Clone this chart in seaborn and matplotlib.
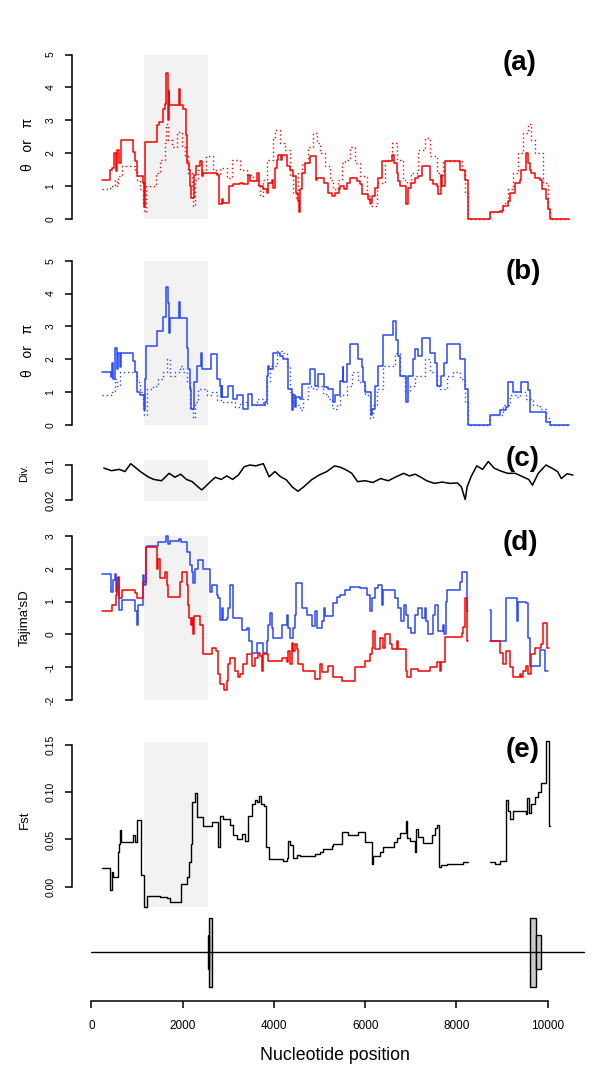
import numpy as np
import pandas as pd
import matplotlib
matplotlib.use("Agg")
import matplotlib.pyplot as plt
import seaborn as sns

sns.set_style("white")
plt.rcParams["font.family"] = ["Liberation Sans", "DejaVu Sans"]
plt.rcParams["axes.unicode_minus"] = False
for key in ["text.color", "axes.labelcolor", "axes.edgecolor", "xtick.color", "ytick.color"]:
    plt.rcParams[key] = "black"

RED = "#ff0000"
BLUE = "#2a48ff"
SHADE = "#f2f2f2"

# highlighted region (nt) and gene model
shade_span = [1150, 2555]
seq_len = 10790
exon_big = [(2570, 2640), (9612, 9755)]
exon_small = [(2545, 2575), (9755, 9857)]
x_ticks = [0, 2000, 4000, 6000, 8000, 10000]

# (a) red, solid and dotted step lines
a_solid_pos = [223, 405, 442, 500, 537, 566, 603, 647, 917, 953, 1000, 1121, 1151, 1172,
               1428, 1487, 1574, 1611, 1640, 1669, 1690, 1710, 1925, 1950, 2013, 2063,
               2100, 2140, 2159, 2180, 2254, 2290, 2378, 2414, 2436, 2743, 2794, 2853,
               2889, 3013, 3108, 3255, 3328, 3437, 3474, 3620, 3678, 3766, 3839, 3876,
               3964, 3985, 4022, 4058, 4080, 4153, 4175, 4277, 4350, 4423, 4474, 4518,
               4555, 4569, 4606, 4679, 4789, 4913, 4935, 5095, 5190, 5264, 5337, 5424,
               5446, 5541, 5592, 5665, 5811, 5884, 5921, 6067, 6103, 6140, 6213, 6286,
               6359, 6578, 6629, 6688, 6724, 6761, 6892, 6943, 7016, 7089, 7163, 7236,
               7419, 7492, 7565, 7601, 7674, 7696, 7747, 8076, 8186, 8259, 8748, 8953,
               9026, 9135, 9172, 9281, 9391, 9428, 9537, 9574, 9610, 9647, 9720, 9829,
               9870, 9975, 10012, 10048, 10472]
a_solid_val = [1.2, 1.5, 1.55, 2.0, 1.45, 2.1, 1.7, 2.4, 2.05, 1.75, 1.3, 1.1, 0.35, 2.35,
               2.85, 2.95, 3.35, 3.5, 4.45, 3.0, 3.9, 3.45, 3.95, 3.45, 3.35, 2.55,
               1.7, 1.5, 1.0, 0.65, 1.35, 1.6, 1.75, 1.3, 1.4, 1.35, 0.45, 0.6,
               0.5, 1.0, 1.05, 1.1, 1.05, 1.35, 1.15, 1.4, 1.0, 0.9, 0.8, 1.1,
               1.2, 0.95, 1.55, 1.8, 1.95, 1.8, 1.95, 1.6, 1.5, 1.3, 0.8, 0.55,
               0.2, 0.9, 1.4, 1.7, 1.9, 1.2, 1.25, 1.1, 0.8, 0.7, 0.8, 0.9,
               1.0, 0.9, 1.1, 1.25, 1.15, 1.05, 0.75, 0.6, 0.5, 0.7, 0.95, 1.25,
               1.75, 1.95, 1.7, 1.4, 1.15, 1.0, 0.45, 0.95, 1.1, 1.25, 1.3, 1.6,
               1.2, 1.05, 1.0, 0.75, 1.35, 1.0, 1.75, 1.5, 1.2, 0.0, 0.2, 0.25,
               0.4, 0.55, 0.8, 1.1, 1.2, 1.5, 2.0, 1.7, 1.5, 1.4, 1.25, 1.2,
               0.9, 0.6, 0.3, 0.0, 0.0]
a_dot_pos = [223, 405, 515, 552, 588, 661, 953, 990, 1063, 1136, 1158, 1187, 1420, 1501,
             1611, 1640, 1684, 1757, 1880, 1976, 2049, 2122, 2195, 2217, 2268, 2341,
             2500, 2670, 2743, 2816, 2962, 3072, 3255, 3401, 3547, 3656, 3693, 3766,
             3839, 3985, 4022, 4131, 4241, 4350, 4423, 4482, 4533, 4606, 4752, 4862,
             4935, 5008, 5117, 5227, 5300, 5410, 5483, 5556, 5665, 5775, 5884, 6030,
             6103, 6250, 6432, 6578, 6688, 6834, 6907, 7016, 7163, 7309, 7419, 7565,
             7638, 7711, 8113, 8186, 8259, 8748, 9026, 9135, 9245, 9354, 9464, 9574,
             9647, 9720, 9902, 10012, 10048, 10472]
a_dot_val = [0.9, 1.0, 1.2, 1.0, 1.3, 1.6, 1.5, 1.2, 0.9, 0.5, 0.2, 1.0, 1.4, 1.8,
             2.3, 2.9, 2.4, 2.2, 2.65, 2.2, 1.9, 1.4, 0.9, 0.4, 1.2, 1.5,
             1.9, 1.5, 1.3, 1.55, 1.25, 1.8, 1.5, 1.35, 1.2, 1.0, 0.7, 1.2,
             1.8, 2.5, 2.7, 2.3, 2.1, 1.3, 0.8, 0.6, 1.4, 1.7, 2.2, 2.6,
             2.3, 2.0, 1.6, 1.2, 0.9, 1.2, 1.7, 1.8, 2.2, 1.7, 1.3, 0.7,
             0.4, 1.1, 1.8, 2.3, 1.8, 1.2, 1.1, 1.4, 2.1, 2.45, 1.9, 1.4,
             1.3, 1.75, 1.5, 0.8, 0.0, 0.2, 0.5, 0.9, 1.4, 2.0, 2.6, 2.9,
             2.4, 2.0, 1.1, 0.3, 0.0, 0.0]

# (b) blue, solid and dotted step lines
b_solid_pos = [223, 427, 457, 478, 515, 552, 588, 625, 647, 917, 953, 990, 1063, 1151,
               1172, 1187, 1428, 1574, 1640, 1669, 1698, 1720, 1925, 1950, 2086, 2122,
               2159, 2180, 2254, 2305, 2400, 2414, 2612, 2760, 2816, 2830, 2853, 2870,
               2999, 3108, 3181, 3328, 3437, 3510, 3803, 3839, 3876, 3898, 3971, 4131,
               4204, 4314, 4387, 4423, 4460, 4482, 4569, 4606, 4789, 4898, 4971, 5095,
               5190, 5300, 5337, 5446, 5505, 5519, 5592, 5665, 5848, 5921, 5957, 5994,
               6118, 6140, 6213, 6286, 6396, 6615, 6666, 6724, 6761, 6892, 6943, 7053,
               7089, 7163, 7236, 7419, 7528, 7565, 7674, 7726, 7784, 8076, 8186, 8259,
               8748, 8953, 9099, 9135, 9245, 9428, 9574, 9610, 9975, 10048, 10472]
b_solid_val = [1.6, 1.45, 1.9, 1.4, 2.35, 1.7, 2.2, 1.75, 2.2, 1.95, 1.6, 1.0, 0.9, 0.45,
               1.4, 2.4, 2.85, 3.3, 4.2, 3.7, 2.8, 3.25, 3.75, 3.25, 2.35, 1.7,
               1.1, 0.5, 1.3, 1.8, 2.2, 1.7, 2.15, 1.4, 1.2, 0.85, 1.2, 0.85,
               1.2, 0.8, 0.9, 0.5, 0.95, 0.6, 0.7, 1.5, 1.8, 1.7, 2.2, 2.1,
               2.0, 1.1, 0.45, 0.9, 0.55, 0.85, 0.8, 1.25, 1.7, 1.2, 1.55, 1.15,
               1.1, 0.7, 0.9, 1.35, 1.75, 1.3, 1.85, 2.45, 2.0, 1.75, 1.3, 1.0,
               0.3, 0.5, 1.2, 1.8, 2.75, 3.15, 2.6, 2.1, 1.5, 0.7, 1.5, 2.0,
               2.3, 2.1, 2.65, 2.2, 1.9, 1.2, 1.5, 1.9, 2.45, 2.0, 1.1, 0.0,
               0.3, 0.45, 0.55, 1.3, 1.0, 1.3, 1.05, 0.4, 0.1, 0.0, 0.0]
b_dot_pos = [223, 442, 515, 552, 625, 990, 1063, 1136, 1158, 1209, 1355, 1465, 1574, 1647,
             1720, 1830, 1940, 2013, 2086, 2159, 2217, 2268, 2341, 2524, 2634, 2743,
             2889, 3145, 3255, 3401, 3620, 3766, 3839, 3912, 4058, 4168, 4277, 4350,
             4423, 4569, 4642, 4752, 4862, 4971, 5081, 5190, 5264, 5300, 5373, 5446,
             5592, 5702, 5848, 5994, 6103, 6176, 6250, 6396, 6651, 6761, 6870, 6980,
             7089, 7309, 7419, 7565, 7638, 7784, 7930, 8076, 8186, 8259, 8748, 9026,
             9172, 9318, 9391, 9537, 9683, 9829, 9975, 10048, 10472]
b_dot_val = [0.9, 1.0, 1.4, 1.2, 1.6, 1.3, 1.0, 0.6, 0.3, 1.1, 1.2, 1.4, 1.6, 2.0,
             1.5, 1.6, 1.8, 1.6, 1.3, 0.5, 0.2, 0.7, 1.1, 0.9, 1.0, 0.75,
             0.7, 0.55, 0.7, 0.6, 0.8, 0.6, 1.3, 1.8, 2.25, 2.2, 1.8, 1.0,
             0.6, 0.45, 0.8, 1.2, 1.1, 1.2, 0.95, 0.8, 0.6, 0.5, 0.6, 0.9,
             1.2, 1.6, 1.3, 0.9, 0.2, 0.6, 1.1, 1.8, 2.2, 1.5, 1.0, 1.2,
             1.5, 2.0, 1.6, 1.2, 1.1, 1.5, 1.6, 1.4, 0.7, 0.0, 0.3, 0.6,
             0.9, 0.85, 1.0, 0.8, 0.6, 0.5, 0.2, 0.0, 0.0]

# (c) divergence
c_pos = [271, 439, 608, 734, 860, 944, 1071, 1240, 1366, 1535, 1703, 1830, 1956, 2082,
         2209, 2335, 2420, 2589, 2715, 2842, 2968, 3094, 3221, 3347, 3473, 3600, 3768,
         3895, 4021, 4148, 4274, 4400, 4527, 4653, 4822, 4991, 5159, 5328, 5454, 5581,
         5707, 5834, 6002, 6171, 6339, 6508, 6677, 6845, 6971, 7098, 7224, 7350, 7519,
         7688, 7856, 8025, 8110, 8194, 8236, 8321, 8447, 8574, 8700, 8827, 8953, 9121,
         9290, 9459, 9585, 9669, 9796, 9965, 10091, 10218, 10302, 10428, 10555]
c_val = [0.093, 0.087, 0.090, 0.085, 0.103, 0.096, 0.085, 0.073, 0.067, 0.064, 0.081,
         0.072, 0.079, 0.067, 0.062, 0.050, 0.043, 0.060, 0.072, 0.067, 0.075, 0.067,
         0.077, 0.096, 0.100, 0.098, 0.103, 0.073, 0.085, 0.073, 0.066, 0.050, 0.040,
         0.050, 0.066, 0.077, 0.085, 0.098, 0.095, 0.089, 0.081, 0.062, 0.064, 0.060,
         0.069, 0.064, 0.073, 0.081, 0.075, 0.079, 0.072, 0.064, 0.058, 0.061, 0.058,
         0.059, 0.050, 0.021, 0.050, 0.073, 0.098, 0.090, 0.108, 0.093, 0.087, 0.081,
         0.081, 0.073, 0.067, 0.054, 0.081, 0.100, 0.093, 0.085, 0.069, 0.080, 0.077]

# (d) Tajima's D, blue and red (None = no data)
d_blue_pos = [223, 427, 478, 515, 537, 566, 610, 661, 953, 990, 1026, 1121, 1151, 1187,
              1209, 1465, 1640, 1684, 1720, 1925, 1960, 2100, 2159, 2195, 2217, 2268,
              2341, 2451, 2597, 2634, 2743, 2780, 2816, 2853, 2880, 2962, 2999, 3035,
              3108, 3291, 3401, 3459, 3510, 3620, 3766, 3839, 3876, 3912, 3949, 3985,
              4168, 4277, 4314, 4350, 4423, 4460, 4482, 4606, 4716, 4825, 4898, 4935,
              5044, 5095, 5117, 5300, 5373, 5446, 5556, 5665, 5884, 6030, 6103, 6140,
              6213, 6286, 6359, 6396, 6651, 6724, 6797, 6856, 6892, 6943, 7016, 7089,
              7163, 7236, 7309, 7345, 7382, 7492, 7528, 7601, 7711, 7733, 7762, 7784,
              8076, 8113, 8244, 8259, 8500, 8748, 8770, 9084, 9330, 9345, 9537, 9574,
              9610, 9829, 9939, 10012]
d_blue_val = [1.85, 1.3, 1.65, 1.85, 1.3, 1.7, 0.75, 1.05, 0.7, 0.3, 0.9, 1.8, 1.5, 2.65,
              2.7, 2.8, 3.0, 2.75, 2.85, 2.9, 2.8, 2.5, 2.1, 1.9, 1.55, 2.0,
              2.25, 2.0, 1.3, 1.5, 1.2, 1.1, 0.45, 0.8, 0.45, 0.5, 0.8, 1.5,
              0.5, 0.15, 0.2, -0.2, -0.55, -0.25, -0.55, -0.2, 0.3, 0.65, 0.2, -0.1,
              0.3, 0.6, 0.2, -0.1, 0.2, 0.6, 1.55, 0.8, 0.6, 0.25, 0.7, 0.2,
              0.4, 0.8, 0.55, 0.95, 1.15, 1.2, 1.35, 1.45, 1.4, 1.2, 0.7, 1.1,
              1.4, 1.5, 0.9, 1.35, 1.1, 0.8, 0.4, 0.9, 0.6, 0.2, 0.05, 0.6,
              0.8, 0.5, 0.8, 0.4, 0.0, 0.6, 0.9, 0.1, 0.3, 0.0, 1.0, 1.35,
              1.6, 1.9, 0.7, 0.7, None, 0.75, -0.2, 1.1, 0.4, 1.0, 0.95, -0.1,
              -0.95, -0.47, -1.1, -1.1]
d_red_pos = [223, 442, 537, 552, 588, 610, 661, 953, 990, 1136, 1187, 1428, 1465, 1501,
             1611, 1647, 1684, 1940, 1976, 2086, 2122, 2144, 2173, 2195, 2217, 2254,
             2378, 2451, 2634, 2728, 2780, 2816, 2904, 2962, 2999, 3035, 3145, 3218,
             3255, 3328, 3401, 3510, 3583, 3656, 3693, 3729, 3766, 3876, 4168, 4277,
             4314, 4350, 4387, 4423, 4460, 4496, 4533, 4642, 4898, 5008, 5044, 5190,
             5300, 5483, 5775, 5994, 6103, 6140, 6162, 6213, 6323, 6396, 6430, 6542,
             6578, 6688, 6724, 6892, 6907, 7016, 7163, 7419, 7565, 7638, 7674, 7747,
             8113, 8149, 8200, 8244, 8259, 8500, 8748, 8953, 9026, 9099, 9172, 9245,
             9391, 9428, 9464, 9537, 9574, 9647, 9720, 9866, 9902, 9990, 10034]
d_red_val = [0.7, 0.9, 1.2, 1.45, 1.75, 1.1, 1.35, 1.25, 1.1, 1.6, 2.65, 2.0, 2.3, 1.7,
             1.9, 1.5, 1.15, 1.6, 1.9, 1.5, 0.9, 0.5, 0.3, 0.5, 0.0, 0.55,
             0.3, -0.6, -0.4, -0.5, -1.2, -1.5, -1.7, -1.4, -0.9, -0.7, -1.1, -1.3,
             -1.2, -0.9, -0.6, -0.95, -0.7, -0.55, -0.65, -1.1, -0.6, -0.8, -0.7, -0.85,
             -0.5, -0.9, -0.25, -0.5, -0.3, -0.45, -0.9, -1.1, -1.35, -0.9, -1.15, -0.95,
             -1.3, -1.4, -1.0, -0.8, -0.6, -0.4, 0.1, -0.45, -0.1, -0.4, 0.0, -0.3,
             -0.45, -0.2, -0.45, -1.1, -1.3, -1.05, -1.1, -1.0, -0.85, -1.1, -0.85, -0.07,
             0.05, 0.22, 1.1, -0.2, -0.2, None, -0.2, -0.55, -0.9, -0.5, -1.0, -1.3,
             -1.2, -1.3, -1.1, -0.95, -1.2, -0.6, -0.4, -0.3, 0.35, -0.42, -0.42]

# (e) Fst
e_pos = [223, 405, 457, 478, 588, 610, 625, 647, 917, 953, 990, 1085, 1158, 1209, 1501,
         1647, 1720, 1962, 2100, 2136, 2173, 2210, 2268, 2305, 2451, 2634, 2780, 2816,
         2889, 3035, 3108, 3181, 3291, 3364, 3437, 3510, 3583, 3620, 3678, 3707, 3781,
         3817, 3898, 4204, 4277, 4314, 4350, 4423, 4496, 4569, 4716, 4898, 5008, 5081,
         5264, 5300, 5483, 5629, 5848, 5994, 6140, 6176, 6323, 6396, 6637, 6688, 6761,
         6892, 6922, 6980, 7089, 7111, 7163, 7272, 7455, 7528, 7565, 7623, 7674, 7784,
         8149, 8259, 8500, 8748, 8843, 8953, 9084, 9135, 9172, 9245, 9537, 9552, 9596,
         9647, 9720, 9793, 9866, 9961, 10030, 10048]
e_val = [0.02, -0.004, 0.016, 0.01, 0.037, 0.045, 0.06, 0.047, 0.055, 0.047, 0.071,
         0.012, -0.021, -0.01, -0.011, -0.012, -0.016, 0.003, 0.01, 0.026, 0.045, 0.09,
         0.099, 0.074, 0.064, 0.068, 0.042, 0.075, 0.072, 0.065, 0.055, 0.05, 0.056,
         0.048, 0.075, 0.088, 0.092, 0.09, 0.096, 0.088, 0.085, 0.042, 0.029, 0.027,
         0.03, 0.048, 0.044, 0.03, 0.034, 0.033, 0.032, 0.035, 0.037, 0.04, 0.043,
         0.045, 0.058, 0.055, 0.058, 0.047, 0.024, 0.033, 0.037, 0.042, 0.047, 0.052,
         0.057, 0.07, 0.052, 0.048, 0.037, 0.061, 0.053, 0.046, 0.055, 0.062, 0.065,
         0.021, 0.023, 0.024, 0.026, 0.026, None, 0.026, 0.024, 0.027, 0.092, 0.08,
         0.072, 0.08, 0.077, 0.094, 0.078, 0.088, 0.095, 0.1, 0.11, 0.154, 0.064, 0.064]


def segments(pos, val):
    df = pd.DataFrame({"pos": pos, "val": pd.to_numeric(pd.Series(val), errors="coerce")})
    df["seg"] = df["val"].isna().cumsum()
    return df.dropna()


def draw(ax, pos, val, color, ls="-", lw=1.0, steps=True):
    sns.lineplot(data=segments(pos, val), x="pos", y="val", units="seg", estimator=None,
                 color=color, lw=lw, ls=ls, ax=ax, legend=False,
                 drawstyle="steps-post" if steps else "default")
    ax.set_xlabel("")
    ax.set_ylabel("")


W, H = 600, 1084
L, R = 72, 590
XLIM = (-427, 10930)
fig = plt.figure(figsize=(W / 100, H / 100), dpi=100)


def panel(top, bot, v_hi, px_hi, v_lo, px_lo, ticks, labels, tsize=7.5):
    ax = fig.add_axes([L / W, 1 - bot / H, (R - L) / W, (bot - top) / H])
    k = (v_hi - v_lo) / (px_lo - px_hi)
    ax.set_ylim(v_lo - (bot - px_lo) * k, v_hi + (px_hi - top) * k)
    ax.set_xlim(XLIM)
    ax.patch.set_alpha(0)
    sns.despine(ax=ax, bottom=True)
    ax.spines["left"].set_bounds(v_lo, v_hi)
    ax.spines["left"].set_linewidth(1.1)
    ax.set_xticks([])
    ax.set_yticks(ticks)
    ax.set_yticklabels(labels)
    ax.tick_params(axis="y", left=True, direction="out", length=5, width=1.1,
                   labelsize=tsize, labelrotation=90, pad=7)
    for t in ax.get_yticklabels():
        t.set_va("center")
    return ax


def shade(ax, lo, hi):
    ax.fill_between(shade_span, lo, hi, color=SHADE, lw=0, zorder=0)


def ftext(x, y, s, **kw):
    fig.text(x / W, 1 - y / H, s, ha="center", va="center", **kw)


# (a)
ax = panel(40, 232, 5, 54.5, 0, 219, range(6), [str(i) for i in range(6)])
shade(ax, 0, 5)
draw(ax, a_dot_pos, a_dot_val, RED, ls=(0, (1, 2)), lw=1.0)
draw(ax, a_solid_pos, a_solid_val, RED, lw=1.1)
ftext(28, 144, "θ   or   π", fontsize=10, rotation=90)
ftext(520, 63, "(a)", fontsize=20, fontweight="bold")

# (b)
ax = panel(245, 437, 5, 260.7, 0, 425, range(6), [str(i) for i in range(6)])
shade(ax, 0, 5)
draw(ax, b_dot_pos, b_dot_val, BLUE, ls=(0, (1, 2)), lw=1.0)
draw(ax, b_solid_pos, b_solid_val, BLUE, lw=1.1)
ftext(28, 350, "θ   or   π", fontsize=10, rotation=90)
ftext(523, 272, "(b)", fontsize=20, fontweight="bold")

# (c)
ax = panel(452, 512, 0.1, 465, 0.02, 500, [0.02, 0.1], ["0.02", "0.1"], tsize=8)
shade(ax, 0.0178, 0.111)
draw(ax, c_pos, c_val, "black", lw=1.1, steps=False)
ftext(24, 473, "Div.", fontsize=8, rotation=90)
ftext(523, 459, "(c)", fontsize=20, fontweight="bold")

# (d)
ax = panel(522, 712, 3, 535.7, -2, 700.3, range(-2, 4), [str(i) for i in range(-2, 4)])
shade(ax, -2, 3)
draw(ax, d_blue_pos, d_blue_val, BLUE, lw=1.1)
draw(ax, d_red_pos, d_red_val, RED, lw=1.1)
ftext(25, 618, "Tajima'sD", fontsize=9.5, rotation=90)
ftext(520, 543, "(d)", fontsize=20, fontweight="bold")

# (e)
ax = panel(735, 912, 0.15, 745, 0, 886.7, [0, 0.05, 0.1, 0.15],
           ["0.00", "0.05", "0.10", "0.15"])
shade(ax, -0.021, 0.153)
draw(ax, e_pos, e_val, "black", lw=1.0)
ftext(25, 820, "Fst", fontsize=9.5, rotation=90)
ftext(523, 750, "(e)", fontsize=20, fontweight="bold")

# gene model + position axis
gx = fig.add_axes([L / W, 1 - 1001 / H, (R - L) / W, (1001 - 905) / H])
gx.patch.set_alpha(0)
gx.set_xlim(XLIM)
gx.set_ylim(-49, 47)
gx.plot([0, seq_len], [0, 0], color="black", lw=1.0)
for s, e in exon_big:
    gx.bar(x=s, height=69, width=e - s, bottom=-34.5, align="edge", color="#c8c8c8",
           edgecolor="black", lw=1.0)
for s, e in exon_small:
    gx.bar(x=s, height=34, width=e - s, bottom=-17, align="edge", color="#c8c8c8",
           edgecolor="black", lw=1.0)
sns.despine(ax=gx, left=True)
gx.spines["bottom"].set_bounds(0, 10000)
gx.spines["bottom"].set_linewidth(1.1)
gx.set_yticks([])
gx.set_xticks(x_ticks)
gx.set_xticklabels([str(t) for t in x_ticks])
gx.tick_params(axis="x", bottom=True, direction="out", length=5, width=1.1,
               labelsize=8.5, pad=9)
ftext(335, 1056, "Nucleotide position", fontsize=12.8)

fig.savefig("out.png", dpi=100)
